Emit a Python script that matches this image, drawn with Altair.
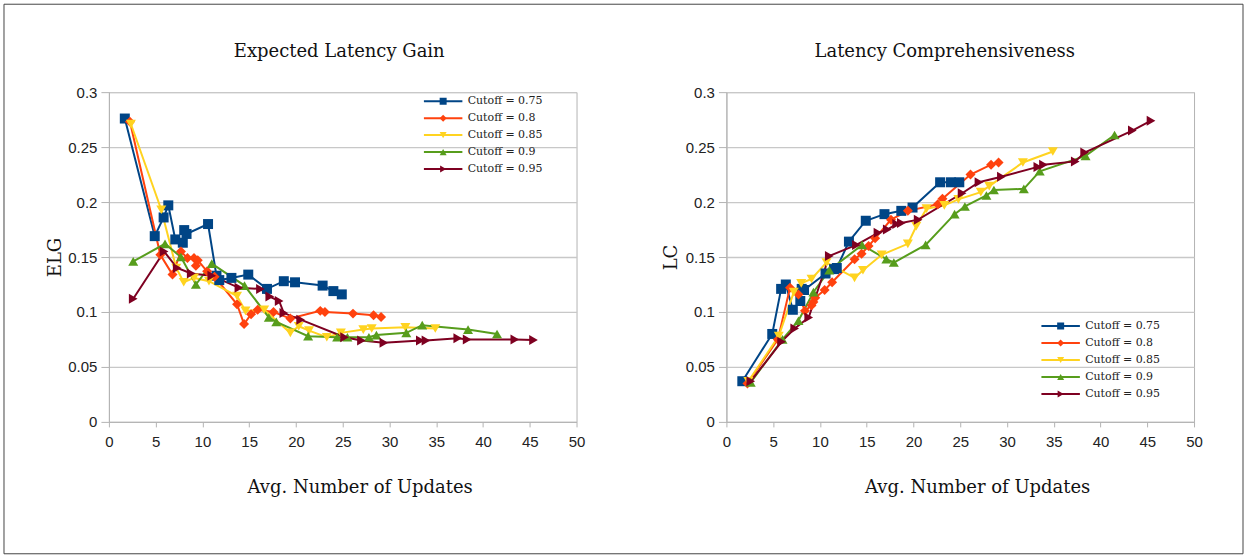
import altair as alt
import pandas as pd

# Series names, colours and marker shapes
SERIES = ["Cutoff = 0.75", "Cutoff = 0.8", "Cutoff = 0.85", "Cutoff = 0.9", "Cutoff = 0.95"]
COLORS = ["#004586", "#ff420e", "#ffd320", "#579d1c", "#7e0021"]
SHAPES = ["square", "diamond", "triangle-down", "triangle-up", "triangle-right"]

X_TICKS = [0, 5, 10, 15, 20, 25, 30, 35, 40, 45, 50]
Y_TICKS = [0, 0.05, 0.1, 0.15, 0.2, 0.25, 0.3]

# Average number of updates per configuration, with ELG and LC per cutoff
x75 = [1.7, 4.9, 5.85, 6.35, 7.1, 7.9, 8.05, 8.3, 10.6, 11.5, 11.8, 13.1, 14.9, 16.9, 18.7, 19.9, 22.85, 24.0, 24.9]
elg75 = [0.276, 0.169, 0.186, 0.197, 0.166, 0.163, 0.1745, 0.171, 0.180, 0.133, 0.129, 0.131, 0.134, 0.121, 0.128, 0.127, 0.124, 0.119, 0.116]
lc75 = [0.037, 0.080, 0.121, 0.125, 0.102, 0.110, 0.121, 0.120, 0.135, 0.139, 0.140, 0.164, 0.183, 0.189, 0.192, 0.195, 0.218, 0.218, 0.218]

x80 = [2.25, 5.5, 6.8, 7.7, 8.4, 9.1, 9.3, 9.5, 10.5, 11.3, 13.7, 14.45, 15.2, 15.9, 17.6, 19.4, 22.6, 23.1, 26.1, 28.3, 29.1]
elg80 = [0.273, 0.152, 0.134, 0.155, 0.149, 0.149, 0.142, 0.147, 0.137, 0.132, 0.107, 0.089, 0.098, 0.102, 0.100, 0.094, 0.101, 0.100, 0.0985, 0.097, 0.0955]
lc80 = [0.035, 0.075, 0.122, 0.116, 0.101, 0.106, 0.109, 0.113, 0.120, 0.127, 0.148, 0.153, 0.160, 0.167, 0.184, 0.192, 0.198, 0.203, 0.225, 0.234, 0.236]

x85 = [2.35, 5.6, 7.2, 8.0, 9.1, 10.7, 13.7, 14.6, 16.6, 19.4, 20.3, 21.4, 23.3, 24.8, 27.2, 28.1, 31.7, 34.9]
elg85 = [0.271, 0.193, 0.140, 0.127, 0.131, 0.128, 0.1145, 0.101, 0.102, 0.081, 0.087, 0.083, 0.077, 0.081, 0.084, 0.085, 0.086, 0.085]
lc85 = [0.037, 0.078, 0.118, 0.126, 0.130, 0.145, 0.131, 0.138, 0.152, 0.162, 0.178, 0.194, 0.197, 0.2025, 0.209, 0.2145, 0.236, 0.246]

x90 = [2.6, 6.0, 7.7, 9.3, 11.0, 14.5, 17.1, 17.9, 21.3, 24.4, 25.5, 27.8, 28.6, 31.8, 33.5, 38.4, 41.5]
elg90 = [0.146, 0.162, 0.150, 0.125, 0.144, 0.124, 0.095, 0.091, 0.078, 0.077, 0.077, 0.077, 0.079, 0.081, 0.088, 0.084, 0.080]
lc90 = [0.036, 0.075, 0.092, 0.118, 0.138, 0.161, 0.148, 0.145, 0.161, 0.189, 0.196, 0.206, 0.211, 0.212, 0.228, 0.242, 0.261]

x95 = [2.6, 5.9, 7.3, 8.8, 11.0, 13.9, 16.2, 17.2, 18.2, 18.7, 20.5, 25.2, 27.0, 29.4, 33.3, 33.9, 37.3, 38.3, 43.4, 45.4]
elg95 = [0.112, 0.155, 0.140, 0.135, 0.133, 0.122, 0.121, 0.114, 0.110, 0.099, 0.093, 0.077, 0.074, 0.072, 0.074, 0.074, 0.076, 0.075, 0.075, 0.0745]
lc95 = [0.037, 0.073, 0.085, 0.095, 0.151, 0.161, 0.172, 0.175, 0.180, 0.181, 0.184, 0.208, 0.218, 0.223, 0.232, 0.234, 0.237, 0.245, 0.265, 0.274]

rows = []
for name, xs, elg, lc in zip(
    SERIES,
    [x75, x80, x85, x90, x95],
    [elg75, elg80, elg85, elg90, elg95],
    [lc75, lc80, lc85, lc90, lc95],
):
    for i, (xv, e, l) in enumerate(zip(xs, elg, lc)):
        rows.append({"series": name, "marker": name, "step": i,
                     "updates": xv, "ELG": e, "LC": l})
df = pd.DataFrame(rows)

SERIF = "DejaVu Serif"
SANS = "Liberation Sans"
WIDTH, HEIGHT = 468, 330


def legend_args(lx, ly):
    return dict(orient="none", legendX=lx, legendY=ly, title=None,
                symbolSize=49, symbolOffset=16, labelOffset=19, rowPadding=5,
                clipHeight=12, padding=0, labelFont=SERIF, labelFontSize=11,
                labelColor="#222")


def panel(metric, title, title_x, y_title_pad, lx, ly, frame=False):
    base = alt.Chart(df)
    x_bottom = alt.X(
        "updates:Q",
        scale=alt.Scale(domain=[0, 50], nice=False, zero=True, padding=0),
        axis=alt.Axis(values=X_TICKS, format="d", title="Avg. Number of Updates",
                      grid=False, tickSize=5, labelPadding=8, labelFlush=False,
                      minExtent=20, maxExtent=20, titlePadding=37, titleX=251),
    )
    x_top = alt.X(
        "updates:Q",
        axis=alt.Axis(orient="top", title=title, labels=False, ticks=False,
                      domain=False, grid=False, minExtent=0, maxExtent=0,
                      titlePadding=32, titleX=title_x),
    )
    y = alt.Y(
        f"{metric}:Q",
        scale=alt.Scale(domain=[0, 0.3], nice=False, padding=0),
        axis=alt.Axis(values=Y_TICKS, format="~g", title=metric, tickSize=8,
                      labelPadding=4, labelFlush=False, minExtent=30, maxExtent=30,
                      titlePadding=y_title_pad),
    )
    lines = base.mark_line(strokeWidth=2).encode(
        x=x_bottom, y=y, order="step:Q",
        color=alt.Color("series:N", scale=alt.Scale(domain=SERIES, range=COLORS),
                        legend=alt.Legend(symbolType="M-5.5,0H5.5",
                                          symbolStrokeWidth=2, **legend_args(lx, ly))),
    )
    # marker legend sits over the line legend and carries no labels of its own
    marker_legend = alt.Legend(symbolStrokeWidth=2, symbolStrokeColor="transparent",
                               labelExpr="''", **legend_args(lx, ly))
    points = base.mark_point(filled=True, size=100, opacity=1).encode(
        x=x_top, y=y,
        fill=alt.Fill("marker:N", scale=alt.Scale(range=COLORS), legend=marker_legend),
        shape=alt.Shape("marker:N", scale=alt.Scale(range=SHAPES), legend=marker_legend),
    )
    layers = [lines, points]
    if frame:
        # outer frame around the whole figure
        border = alt.Chart(pd.DataFrame({"k": [0]})).mark_rect(
            fillOpacity=0, stroke="#444", strokeWidth=1
        ).encode(x=alt.value(-105), x2=alt.value(1135),
                 y=alt.value(-88), y2=alt.value(462))
        layers = [border] + layers
    return alt.layer(*layers).resolve_axis(x="independent").properties(
        width=WIDTH, height=HEIGHT)


left = panel("ELG", "Expected Latency Gain", 230, 14, 313, 3, frame=True)
right = panel("LC", "Latency Comprehensiveness", 218, 16, 313, 228)

chart = alt.hconcat(left, right, spacing=150, bounds="flush").resolve_scale(
    x="independent", y="independent", color="independent",
    fill="independent", shape="independent",
).resolve_legend(
    color="independent", fill="independent", shape="independent"
).properties(
    padding={"left": 3, "top": 3, "right": 3, "bottom": 3},
    background="white",
).configure_view(
    stroke="#b3b3b3", strokeWidth=1
).configure_axis(
    gridColor="#c8c8c8", gridWidth=1.3, domainColor="#b3b3b3", tickColor="#b3b3b3",
    labelFont=SANS, labelFontSize=15, labelColor="#222",
    titleFont=SERIF, titleFontSize=18, titleFontWeight="normal", titleColor="#111",
)

chart.save("out.html", embed_options={"renderer": "svg", "actions": False})
